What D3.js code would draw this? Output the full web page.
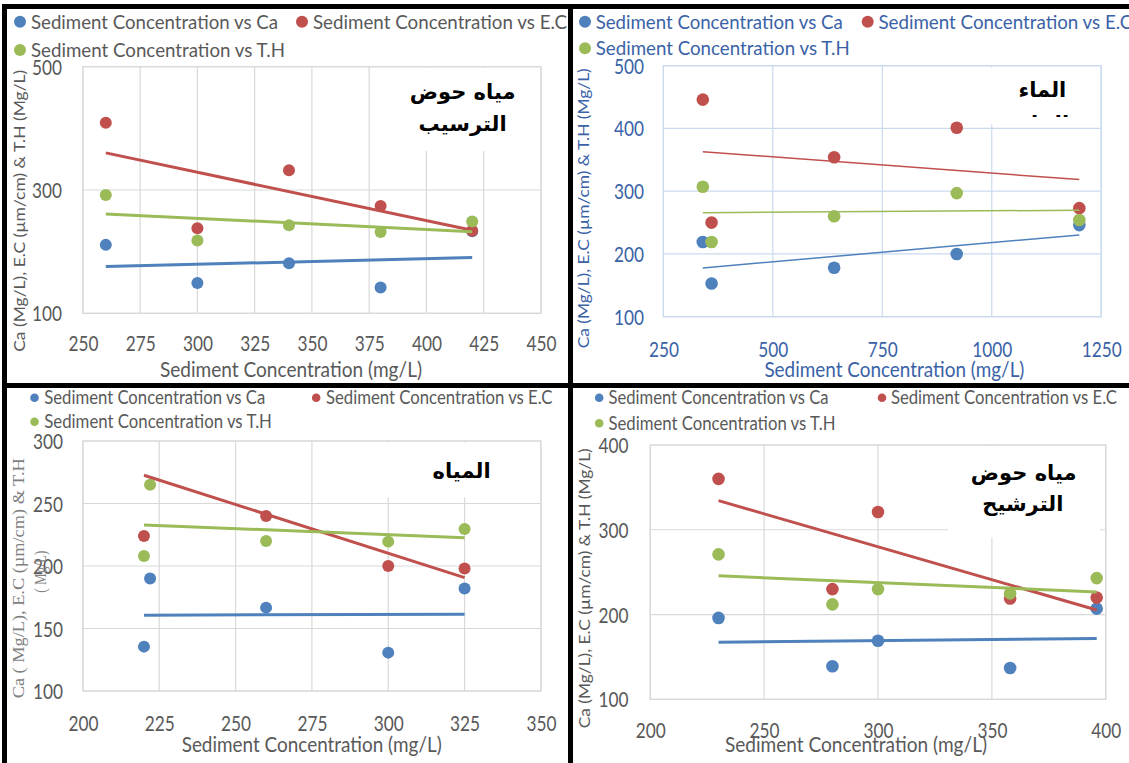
<!DOCTYPE html>
<html>
<head>
<meta charset="utf-8">
<script src="https://cdn.jsdelivr.net/npm/d3@7"></script>
<style>
  html, body { margin: 0; padding: 0; background: #ffffff; }
  svg { display: block; }
</style>
</head>
<body>
<svg id="chart" width="1129" height="763"></svg>
<script>
// ---------- shared labels ----------
const seriesNames = ["Sediment Concentration vs Ca", "Sediment Concentration vs E.C", "Sediment Concentration vs T.H"];
const seriesColors = ["#4F81BD", "#C0504D", "#9BBB59"];
const xAxisTitle = "Sediment Concentration (mg/L)";
const yAxisTitle = "Ca (Mg/L), E.C (µm/cm) & T.H (Mg/L)";
const yAxisTitleTwoLine = ["Ca ( Mg/L), E.C (µm/cm) & T.H", "( Mg/L)"];

// ---------- sedimentation basin water ----------
const basinX  = [260, 300, 340, 380, 420];
const basinCa = [211, 149, 181, 142, 233];
const basinEC = [409, 238, 332, 274, 234];
const basinTH = [292, 218, 243, 232, 249];
const basinXTicks = [250, 275, 300, 325, 350, 375, 400, 425, 450];
const basinYTicks = [100, 300, 500];
const basinNote = ["مياه حوض", "الترسيب"];

// ---------- raw water ----------
const rawX  = [340, 360, 640, 920, 1200];
const rawCa = [219, 153, 178, 200, 246];
const rawEC = [446, 250, 354, 401, 273];
const rawTH = [307, 219, 260, 297, 254];
const rawXTicks = [250, 500, 750, 1000, 1250];
const rawYTicks = [100, 200, 300, 400, 500];
const rawNote = ["الماء", "الخام"];

// ---------- water ----------
const waterX  = [220, 222, 260, 300, 325];
const waterCa = [135.5, 190, 166.7, 130.7, 182];
const waterEC = [224, 324, 240, 200, 198];
const waterTH = [208, 265, 220, 219.5, 229.6];
const waterXTicks = [200, 225, 250, 275, 300, 325, 350];
const waterYTicks = [100, 150, 200, 250, 300];
const waterNote = ["المياه"];

// ---------- filtration basin water ----------
const filterX  = [230, 280, 300, 358, 396];
const filterCa = [196, 139, 169, 137, 207];
const filterEC = [360, 230, 321, 219, 220];
const filterTH = [271, 212, 230, 225, 243];
const filterXTicks = [200, 250, 300, 350, 400];
const filterYTicks = [100, 200, 300, 400];
const filterNote = ["مياه حوض", "الترشيح"];

// ---------- panel layout ----------
const GREY_TEXT = "#595959";
const BLUE_TEXT = "#3A62A7";

const panels = [
  {
    id: "basin", x: basinX, ys: [basinCa, basinEC, basinTH],
    xDomain: [250, 450], xTicks: basinXTicks, yDomain: [100, 500], yTicks: basinYTicks,
    plot: { l: 82.9, r: 540.9, t: 66.7, b: 313.3 },
    text: GREY_TEXT, grid: "#D9D9D9", lineW: 3, dotR: 6,
    legend: { rows: [21.7, 21.7, 50], dotX: [20, 302, 20], textX: [31, 313, 31], size: 20, widths: [247, 254, 254], dotR: 6 },
    yLabelRight: 62, xLabelY: 343.3, tickSize: 21.5,
    xTitle: { x: 291, y: 370, w: 262, size: 21 },
    yTitle: { x: 20, y: 210.8, len: 282, size: 15 },
    note: basinNote, noteBox: { x: 398, y: 68, w: 140, h: 83 },
    noteLines: [{ x: 462.6, y: 91.7 }, { x: 462.6, y: 123.3 }]
  },
  {
    id: "raw", x: rawX, ys: [rawCa, rawEC, rawTH],
    xDomain: [250, 1250], xTicks: rawXTicks, yDomain: [100, 500], yTicks: rawYTicks,
    plot: { l: 663.4, r: 1101.2, t: 65.7, b: 316.7 },
    text: BLUE_TEXT, grid: "#C9DAEF", lineW: 1.5, dotR: 6.3,
    legend: { rows: [21.7, 21.7, 48.3], dotX: [585, 867.7, 585], textX: [595.7, 878.4, 595.7], size: 20, widths: [247, 254, 254], dotR: 6 },
    yLabelRight: 644, xLabelY: 349.3, tickSize: 21.5,
    xTitle: { x: 894.4, y: 370, w: 260, size: 21 },
    yTitle: { x: 583.5, y: 208.3, len: 280, size: 15 },
    note: rawNote, noteBox: { x: 975, y: 67.5, w: 124, h: 57 }, noteClip: 117,
    noteLines: [{ x: 1042.4, y: 90 }, { x: 1042.4, y: 124 }]
  },
  {
    id: "water", x: waterX, ys: [waterCa, waterEC, waterTH],
    xDomain: [200, 350], xTicks: waterXTicks, yDomain: [100, 300], yTicks: waterYTicks,
    plot: { l: 82.9, r: 540.9, t: 441, b: 691 },
    text: GREY_TEXT, grid: "#D9D9D9", lineW: 3, dotR: 6,
    legend: { rows: [397.7, 397.7, 421.7], dotX: [34.5, 316.2, 34.5], textX: [44.3, 326, 44.3], size: 18.5, widths: [221, 226.5, 227.6], dotR: 4.3 },
    yLabelRight: 63, xLabelY: 723.3, tickSize: 21.5,
    xTitle: { x: 311.7, y: 745, w: 260, size: 21 },
    yTitleTwo: [{ x: 18.9, y: 578.3, len: 240 }, { x: 40, y: 571.7, len: 42 }],
    note: waterNote, noteBox: { x: 378, y: 442.5, w: 160, h: 55 },
    noteLines: [{ x: 461.6, y: 471 }]
  },
  {
    id: "filter", x: filterX, ys: [filterCa, filterEC, filterTH],
    xDomain: [200, 400], xTicks: filterXTicks, yDomain: [100, 400], yTicks: filterYTicks,
    plot: { l: 650.2, r: 1105.8, t: 445, b: 699.3 },
    text: GREY_TEXT, grid: "#D9D9D9", lineW: 3, dotR: 6.3,
    legend: { rows: [397.7, 397.7, 423.3], dotX: [599.2, 882, 599.2], textX: [608.5, 890.9, 608.5], size: 18.5, widths: [220, 226, 227], dotR: 4.3 },
    yLabelRight: 628.5, xLabelY: 730, tickSize: 21.5,
    xTitle: { x: 856, y: 745, w: 262, size: 21 },
    yTitle: { x: 584.3, y: 588.3, len: 280, size: 15 },
    note: filterNote, noteBox: { x: 948, y: 446.5, w: 152, h: 91 },
    noteLines: [{ x: 1023.7, y: 472.3 }, { x: 1022.8, y: 503.3 }]
  }
];

const svg = d3.select("#chart");
const defs = svg.append("defs");

function txt(g, s, x, y, o) {
  const t = g.append("text")
    .attr("x", x).attr("y", y).attr("dy", "0.35em")
    .attr("font-family", o.family || "Lato")
    .attr("font-size", o.size)
    .attr("fill", o.color)
    .attr("text-anchor", o.anchor || "start")
    .text(s);
  if (o.width) t.attr("textLength", o.width).attr("lengthAdjust", "spacingAndGlyphs");
  if (o.weight) t.attr("font-weight", o.weight);
  if (o.rotate) t.attr("transform", `rotate(${o.rotate},${x},${y})`);
  return t;
}

// least-squares line through a series
function fitLine(xs, ys) {
  const mx = d3.mean(xs), my = d3.mean(ys);
  let sxy = 0, sxx = 0;
  xs.forEach((xv, i) => { sxy += (xv - mx) * (ys[i] - my); sxx += (xv - mx) * (xv - mx); });
  const slope = sxy / sxx;
  return xv => my + slope * (xv - mx);
}

panels.forEach(p => {
  const g = svg.append("g").attr("class", "panel-" + p.id);
  const x = d3.scaleLinear().domain(p.xDomain).range([p.plot.l, p.plot.r]);
  const y = d3.scaleLinear().domain(p.yDomain).range([p.plot.b, p.plot.t]);

  // gridlines
  const grid = g.append("g").attr("stroke", p.grid).attr("stroke-width", 1.2);
  grid.selectAll(".gx").data(p.xTicks).join("line")
    .attr("x1", d => x(d)).attr("x2", d => x(d))
    .attr("y1", p.plot.t).attr("y2", p.plot.b);
  grid.selectAll(".gy").data(p.yTicks).join("line")
    .attr("x1", p.plot.l).attr("x2", p.plot.r)
    .attr("y1", d => y(d)).attr("y2", d => y(d));
  grid.append("rect")
    .attr("x", p.plot.l).attr("y", p.plot.t)
    .attr("width", p.plot.r - p.plot.l).attr("height", p.plot.b - p.plot.t)
    .attr("fill", "none");

  // axis tick labels
  const xa = g.append("g").attr("transform", `translate(0,${p.xLabelY})`)
    .call(d3.axisBottom(x).tickValues(p.xTicks).tickSize(0).tickPadding(0).tickFormat(d3.format("d")));
  const ya = g.append("g").attr("transform", `translate(${p.yLabelRight},0)`)
    .call(d3.axisLeft(y).tickValues(p.yTicks).tickSize(0).tickPadding(0).tickFormat(d3.format("d")));
  [xa, ya].forEach(a => {
    a.select(".domain").remove();
    a.selectAll("text")
      .attr("font-family", "Lato").attr("font-size", p.tickSize).attr("fill", p.text)
      .attr("y", 0).attr("dy", "0.35em")
      .attr("textLength", d => String(d).length * 10)
      .attr("lengthAdjust", "spacingAndGlyphs");
  });
  xa.selectAll("text").attr("x", 0);
  ya.selectAll("text").attr("x", 0).attr("text-anchor", "end");

  // note box sits on the plot, above the gridlines
  const nb = p.noteBox;
  g.append("rect").attr("x", nb.x).attr("y", nb.y).attr("width", nb.w).attr("height", nb.h).attr("fill", "#ffffff");
  const noteG = g.append("g");
  if (p.noteClip) {
    defs.append("clipPath").attr("id", "noteclip-" + p.id)
      .append("rect").attr("x", nb.x).attr("y", nb.y).attr("width", nb.w).attr("height", p.noteClip - nb.y);
    noteG.attr("clip-path", `url(#noteclip-${p.id})`);
  }
  p.note.forEach((line, i) => {
    txt(noteG, line, p.noteLines[i].x, p.noteLines[i].y,
      { family: "DejaVu Sans", size: 21, weight: "bold", color: "#000000", anchor: "middle" });
  });

  // points and trendlines, clipped to the plot area
  defs.append("clipPath").attr("id", "plotclip-" + p.id)
    .append("rect").attr("x", p.plot.l).attr("y", p.plot.t)
    .attr("width", p.plot.r - p.plot.l).attr("height", p.plot.b - p.plot.t);
  const data = g.append("g").attr("clip-path", `url(#plotclip-${p.id})`);
  p.ys.forEach((ys, si) => {
    data.append("g").selectAll("circle").data(ys).join("circle")
      .attr("cx", (d, i) => x(p.x[i])).attr("cy", d => y(d))
      .attr("r", p.dotR).attr("fill", seriesColors[si]);
  });
  p.ys.forEach((ys, si) => {
    const f = fitLine(p.x, ys);
    const ext = d3.extent(p.x);
    data.append("line")
      .attr("x1", x(ext[0])).attr("y1", y(f(ext[0])))
      .attr("x2", x(ext[1])).attr("y2", y(f(ext[1])))
      .attr("stroke", seriesColors[si]).attr("stroke-width", p.lineW);
  });

  // legend
  const L = p.legend;
  seriesNames.forEach((name, i) => {
    g.append("circle").attr("cx", L.dotX[i]).attr("cy", L.rows[i]).attr("r", L.dotR).attr("fill", seriesColors[i]);
    txt(g, name, L.textX[i], L.rows[i], { size: L.size, color: p.text, width: L.widths[i] });
  });

  // axis titles
  txt(g, xAxisTitle, p.xTitle.x, p.xTitle.y, { size: p.xTitle.size, color: p.text, width: p.xTitle.w, anchor: "middle" });
  if (p.yTitle) {
    txt(g, yAxisTitle, p.yTitle.x, p.yTitle.y, { size: p.yTitle.size, color: p.text, width: p.yTitle.len, anchor: "middle", rotate: -90 });
  } else {
    p.yTitleTwo.forEach((t, i) => {
      txt(g, yAxisTitleTwoLine[i], t.x, t.y, { family: "Liberation Serif", size: 16, color: "#7F7F7F", width: t.len, anchor: "middle", rotate: -90 });
    });
  }
});

// black frame separating the four charts
const frame = svg.append("g").attr("stroke", "#000000").attr("stroke-width", 5);
frame.append("line").attr("x1", 2).attr("x2", 1129).attr("y1", 6.5).attr("y2", 6.5);
frame.append("line").attr("x1", 2).attr("x2", 1129).attr("y1", 385.5).attr("y2", 385.5);
frame.append("line").attr("x1", 4.5).attr("x2", 4.5).attr("y1", 4).attr("y2", 763);
frame.append("line").attr("x1", 570.5).attr("x2", 570.5).attr("y1", 4).attr("y2", 763);
</script>
</body>
</html>
